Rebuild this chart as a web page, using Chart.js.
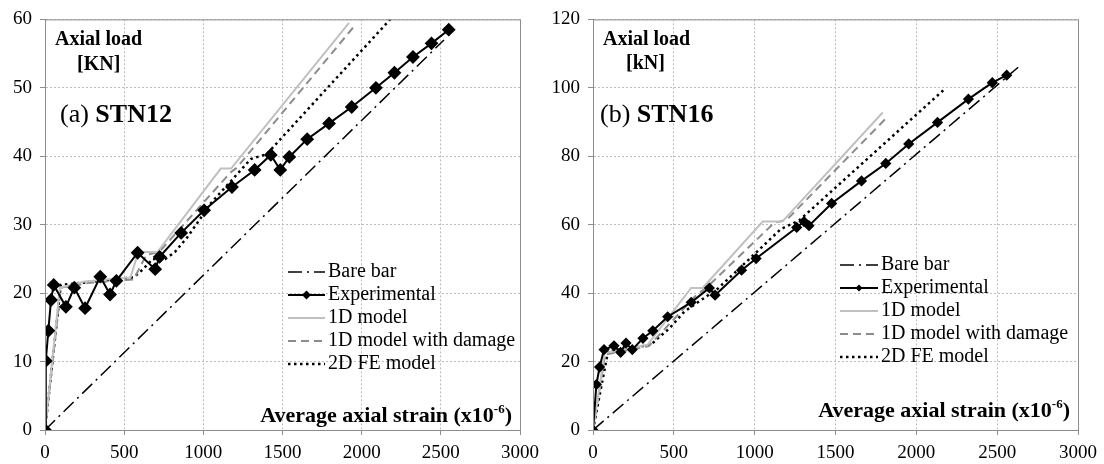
<!DOCTYPE html>
<html>
<head>
<meta charset="utf-8">
<script src="https://cdn.jsdelivr.net/npm/chart.js@4.4.1/dist/chart.umd.min.js"></script>
<style>
  html, body { margin: 0; padding: 0; background: #fff; }
  #wrap { position: relative; width: 1104px; height: 464px; }
  canvas { position: absolute; top: 0; }
</style>
</head>
<body>
<div id="wrap">
  <canvas id="chartA" width="552" height="464" style="left:0"></canvas>
  <canvas id="chartB" width="552" height="464" style="left:552px"></canvas>
</div>
<script>
// ===== DATA =====
const strainTicks = [0, 500, 1000, 1500, 2000, 2500, 3000]
const loadTicksA  = [0, 10, 20, 30, 40, 50, 60]
const loadTicksB  = [0, 20, 40, 60, 80, 100, 120]
const seriesNames = ["Bare bar", "Experimental", "1D model", "1D model with damage", "2D FE model"]

// (a) STN12
const bareA_x = [0, 2520]
const bareA_y = [0, 57]
const expA_x  = [0, 5, 21, 38, 55, 132, 185, 253, 349, 411, 451, 585, 696, 724, 860, 1005, 1181, 1324, 1426, 1486, 1543, 1656, 1794, 1937, 2090, 2207, 2324, 2441, 2550]
const expA_y  = [0, 10.1, 14.5, 19.0, 21.2, 18.0, 20.8, 17.8, 22.4, 19.8, 21.8, 25.9, 23.5, 25.3, 28.8, 32.1, 35.5, 38.0, 40.2, 38.0, 39.9, 42.5, 44.8, 47.2, 50.0, 52.2, 54.5, 56.5, 58.5]
const m1dA_x  = [0, 94, 250, 540, 590, 710, 1110, 1175, 1920]
const m1dA_y  = [0, 20.8, 21.7, 22.3, 26, 26, 38.2, 38.2, 59.5]
const dmgA_x  = [0, 100, 280, 560, 640, 720, 1170, 1210, 1960]
const dmgA_y  = [0, 20.8, 21.5, 22, 25.6, 26, 37.6, 38.3, 59.2]
const feA_x   = [0, 100, 560, 620, 680, 760, 820, 900, 1050, 1300, 1400, 2180]
const feA_y   = [0, 21.2, 22.3, 23.5, 25, 25, 26, 28.2, 33.2, 39.6, 40.3, 60]

// (b) STN16
const bareB_x = [0, 2630]
const bareB_y = [0, 106]
const expB_x  = [0, 21, 41, 68, 130, 171, 204, 243, 309, 370, 462, 607, 720, 755, 919, 1009, 1260, 1305, 1336, 1476, 1661, 1811, 1953, 2131, 2322, 2470, 2559]
const expB_y  = [0, 13.3, 18.4, 23.5, 24.6, 22.7, 25.4, 23.5, 26.8, 29.0, 33.1, 37.3, 41.5, 39.4, 46.7, 50.1, 59.2, 60.9, 59.7, 66.2, 72.8, 77.9, 83.6, 89.9, 96.7, 101.5, 103.7]
const m1dB_x  = [0, 72, 337, 607, 678, 1050, 1171, 1792]
const m1dB_y  = [0, 22.5, 24.9, 41.5, 41.5, 60.9, 60.9, 92.8]
const dmgB_x  = [0, 75, 345, 640, 700, 1120, 1200, 1823]
const dmgB_y  = [0, 22, 24.5, 39.5, 41.5, 60.5, 61.5, 91.6]
const feB_x   = [0, 93, 360, 391, 473, 565, 771, 894, 1161, 1274, 2179]
const feB_y   = [0, 23, 24.9, 26.4, 29.7, 34.6, 41.3, 46.7, 58.7, 61.2, 99.8]

// ===== STYLE =====
const SERIF = "'Liberation Serif', 'Times New Roman', serif"
const AXIS_GRAY = "#8c8c8c"
const GRID_GRAY = "#bdbdbd"

const seriesStyles = [
  { borderColor: "#000", borderWidth: 1.5, borderDash: [14, 5, 2, 5], pointRadius: 0, order: 1 },
  { borderColor: "#000", borderWidth: 2, borderDash: [], pointRadius: 5.5, pointStyle: "rectRot",
    pointBackgroundColor: "#000", pointBorderColor: "#000", order: 0 },
  { borderColor: "#c0c0c0", borderWidth: 2, borderDash: [], pointRadius: 0, order: 1 },
  { borderColor: "#8c8c8c", borderWidth: 2, borderDash: [8, 5], pointRadius: 0, order: 1 },
  { borderColor: "#000", borderWidth: 2.5, borderDash: [2.5, 3.5], pointRadius: 0, order: 1 }
]

const pts = (xs, ys) => xs.map((x, i) => ({ x, y: ys[i] }))

// ===== PLUGINS =====
function framePlugin() {
  return {
    id: "frame",
    afterDraw(chart) {
      const { ctx, chartArea: a } = chart
      ctx.save()
      ctx.strokeStyle = AXIS_GRAY
      ctx.lineWidth = 1
      ctx.setLineDash([])
      ctx.strokeRect(a.left + 0.5, a.top + 0.5, a.right - a.left, a.bottom - a.top)
      ctx.restore()
    }
  }
}

function legendPlugin(lg) {
  return {
    id: "innerLegend",
    afterDraw(chart) {
      const ctx = chart.ctx
      ctx.save()
      chart.data.datasets.forEach((ds, i) => {
        const y = lg.rows[i]
        ctx.strokeStyle = ds.borderColor
        ctx.lineWidth = ds.borderWidth
        ctx.setLineDash(ds.borderDash || [])
        ctx.beginPath()
        ctx.moveTo(lg.x0, y)
        ctx.lineTo(lg.x1, y)
        ctx.stroke()
        ctx.setLineDash([])
        if (ds.pointRadius > 0) {
          const cx = (lg.x0 + lg.x1) / 2, r = lg.mark
          ctx.fillStyle = "#000"
          ctx.beginPath()
          ctx.moveTo(cx, y - r); ctx.lineTo(cx + r, y); ctx.lineTo(cx, y + r); ctx.lineTo(cx - r, y)
          ctx.closePath()
          ctx.fill()
        }
        ctx.fillStyle = "#000"
        ctx.font = `20px ${SERIF}`
        ctx.textAlign = "left"
        ctx.textBaseline = "middle"
        ctx.fillText(ds.label, lg.tx, y)
      })
      ctx.restore()
    }
  }
}

function notesPlugin(n) {
  return {
    id: "notes",
    afterDraw(chart) {
      const ctx = chart.ctx
      ctx.save()
      ctx.fillStyle = "#000"
      ctx.textBaseline = "middle"
      ctx.textAlign = "left"

      ctx.font = `bold 20px ${SERIF}`
      ctx.fillText("Axial load", n.loadX, n.loadY)
      ctx.fillText(n.unit, n.unitX, n.unitY)

      // panel title: "(a) " normal + "STN12" bold
      ctx.font = `26px ${SERIF}`
      ctx.fillText(n.tag, n.tagX, n.tagY)
      const w = ctx.measureText(n.tag).width
      ctx.font = `bold 26px ${SERIF}`
      ctx.fillText(n.name, n.tagX + w, n.tagY)

      // axis title with superscript, right aligned
      const main = "Average axial strain (x10", sup = "-6", close = ")"
      ctx.font = `bold 22px ${SERIF}`
      const wMain = ctx.measureText(main).width
      const wClose = ctx.measureText(close).width
      ctx.font = `bold 13px ${SERIF}`
      const wSup = ctx.measureText(sup).width
      let x = n.axisEnd - wMain - wSup - wClose
      ctx.font = `bold 22px ${SERIF}`
      ctx.fillText(main, x, n.axisY)
      x += wMain
      ctx.font = `bold 13px ${SERIF}`
      ctx.fillText(sup, x, n.axisY - 6)
      x += wSup
      ctx.font = `bold 22px ${SERIF}`
      ctx.fillText(close, x, n.axisY)
      ctx.restore()
    }
  }
}

// ===== CHART BUILDER =====
function buildChart(id, cfg) {
  const datasets = cfg.series.map((s, i) => Object.assign({
    label: seriesNames[i],
    data: pts(s[0], s[1]),
    fill: false,
    tension: 0,
    pointHoverRadius: 0
  }, seriesStyles[i], i === 1 ? { pointRadius: cfg.markSize } : {}))

  const tickFont = { family: SERIF, size: 19 }
  const gridOpts = { display: true, drawOnChartArea: true, color: GRID_GRAY, lineWidth: 1,
                     drawTicks: true, tickLength: 5, tickColor: AXIS_GRAY, tickWidth: 1 }

  return new Chart(document.getElementById(id), {
    type: "line",
    data: { datasets },
    options: {
      responsive: false,
      animation: false,
      layout: { padding: { top: 15, right: cfg.padRight, left: 0, bottom: 0 } },
      plugins: { legend: { display: false }, tooltip: { enabled: false } },
      scales: {
        x: {
          type: "linear",
          min: strainTicks[0],
          max: strainTicks[strainTicks.length - 1],
          afterBuildTicks: s => { s.ticks = strainTicks.map(v => ({ value: v })) },
          afterFit: s => { s.height = 34 },
          grid: gridOpts,
          border: { display: true, color: AXIS_GRAY, width: 1, dash: [2, 2] },
          ticks: { font: tickFont, color: "#000", padding: 7, maxRotation: 0, callback: v => String(v) }
        },
        y: {
          type: "linear",
          min: cfg.yTicks[0],
          max: cfg.yTicks[cfg.yTicks.length - 1],
          afterBuildTicks: s => { s.ticks = cfg.yTicks.map(v => ({ value: v })) },
          afterFit: s => { s.width = cfg.yWidth },
          grid: gridOpts,
          border: { display: true, color: AXIS_GRAY, width: 1, dash: [2, 2] },
          ticks: { font: tickFont, color: "#000", padding: 8, callback: v => String(v) }
        }
      }
    },
    plugins: [framePlugin(), legendPlugin(cfg.legend), notesPlugin(cfg.notes)]
  })
}

// ===== INIT =====
buildChart("chartA", {
  series: [[bareA_x, bareA_y], [expA_x, expA_y], [m1dA_x, m1dA_y], [dmgA_x, dmgA_y], [feA_x, feA_y]],
  yTicks: loadTicksA,
  yWidth: 45,
  padRight: 32,
  markSize: 5.5,
  legend: { x0: 288, x1: 325, tx: 328, mark: 4.5, rows: [272, 295, 318, 341, 364] },
  notes: { loadX: 55, loadY: 40, unit: "[KN]", unitX: 77, unitY: 65,
           tag: "(a) ", name: "STN12", tagX: 60, tagY: 115, axisEnd: 512, axisY: 416 }
})

buildChart("chartB", {
  series: [[bareB_x, bareB_y], [expB_x, expB_y], [m1dB_x, m1dB_y], [dmgB_x, dmgB_y], [feB_x, feB_y]],
  yTicks: loadTicksB,
  yWidth: 41,
  padRight: 24,
  markSize: 4.2,
  legend: { x0: 288, x1: 326, tx: 329, mark: 3.5, rows: [265, 288, 311, 334, 357] },
  notes: { loadX: 51, loadY: 40, unit: "[kN]", unitX: 74, unitY: 64,
           tag: "(b) ", name: "STN16", tagX: 48, tagY: 115, axisEnd: 518, axisY: 411 }
})
</script>
</body>
</html>
